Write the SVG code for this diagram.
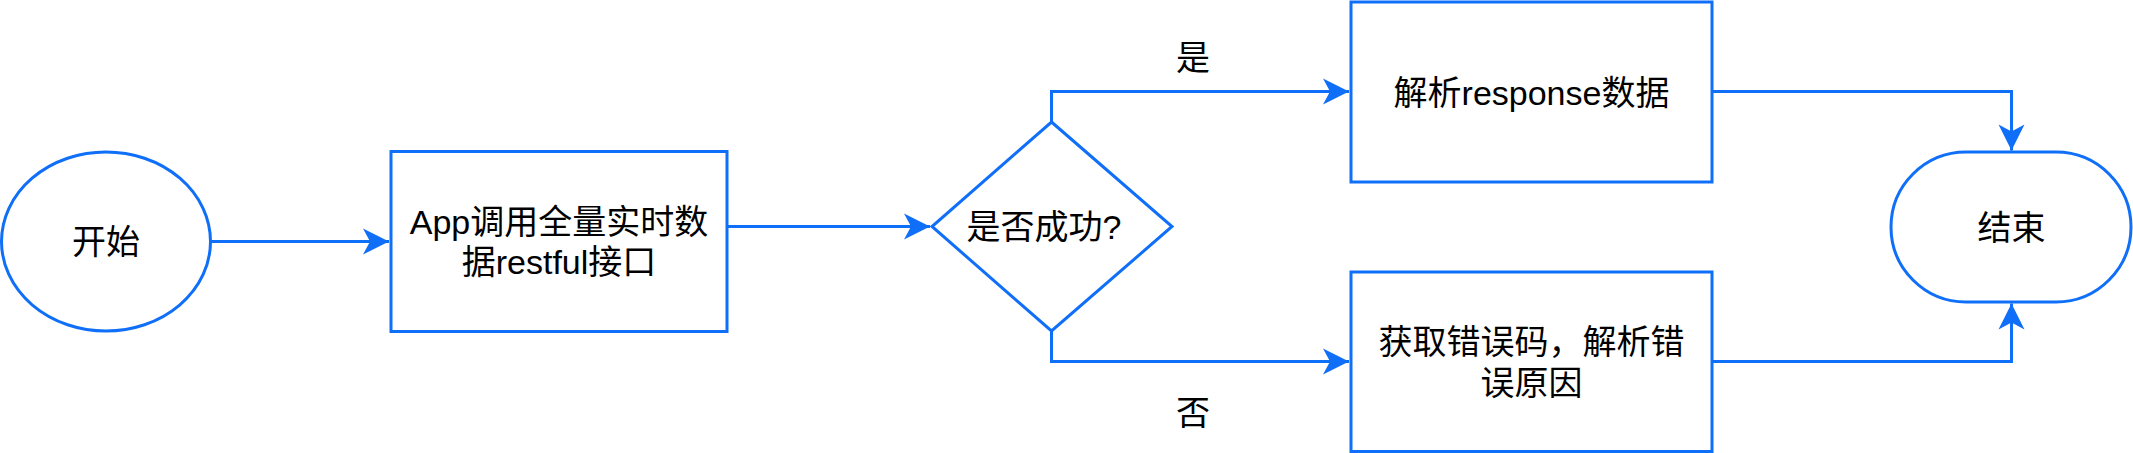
<svg xmlns="http://www.w3.org/2000/svg" width="2133" height="453" viewBox="0 0 2133 453">
<style>
.shape{fill:#ffffff;stroke:#0f6ff8;stroke-width:3}
.edge{fill:none;stroke:#0f6ff8;stroke-width:3}
text{font-family:"Liberation Sans","Noto Sans CJK SC",sans-serif;font-size:34px;fill:#000000;text-anchor:middle;dominant-baseline:central}
</style>
<defs>
<marker id="arr" markerUnits="userSpaceOnUse" markerWidth="30" markerHeight="30" viewBox="-28 -15 30 30" refX="0" refY="0" orient="auto">
<path d="M0,0 L-26,-13 L-19,0 L-26,13 Z" fill="#0f6ff8"/>
</marker>
</defs>
<g id="connectors">
<path class="edge" d="M211,241.5 L389,241.5" marker-end="url(#arr)"/>
<path class="edge" d="M727,226.5 L930,226.5" marker-end="url(#arr)"/>
<path class="edge" d="M1051.5,122 L1051.5,91.5 L1349,91.5" marker-end="url(#arr)"/>
<path class="edge" d="M1051.5,331 L1051.5,361.5 L1349,361.5" marker-end="url(#arr)"/>
<path class="edge" d="M1712,91.5 L2011.5,91.5 L2011.5,150.5" marker-end="url(#arr)"/>
<path class="edge" d="M1712,361.5 L2011.5,361.5 L2011.5,303.5" marker-end="url(#arr)"/>
<text x="1193" y="58">是</text>
<text x="1193" y="413">否</text>
</g>
<g id="start">
<ellipse class="shape" cx="106" cy="241.5" rx="104.5" ry="89.5"/>
<text x="106" y="242">开始</text>
</g>
<g id="call">
<rect class="shape" x="391" y="151.5" width="336" height="180"/>
<text x="559" y="222">App调用全量实时数</text>
<text x="559" y="262">据restful接口</text>
</g>
<g id="decision">
<polygon class="shape" points="1051.5,122 1172,226.5 1051.5,331 932,226.5"/>
<text x="1044" y="227">是否成功?</text>
</g>
<g id="parse">
<rect class="shape" x="1351" y="2" width="361" height="180"/>
<text x="1531.5" y="93">解析response数据</text>
</g>
<g id="error">
<rect class="shape" x="1351" y="272" width="361" height="179.5"/>
<text x="1531.5" y="342">获取错误码，解析错</text>
<text x="1531.5" y="383">误原因</text>
</g>
<g id="end">
<rect class="shape" x="1891" y="152" width="240" height="150" rx="75" ry="75"/>
<text x="2011.5" y="228">结束</text>
</g>
</svg>
